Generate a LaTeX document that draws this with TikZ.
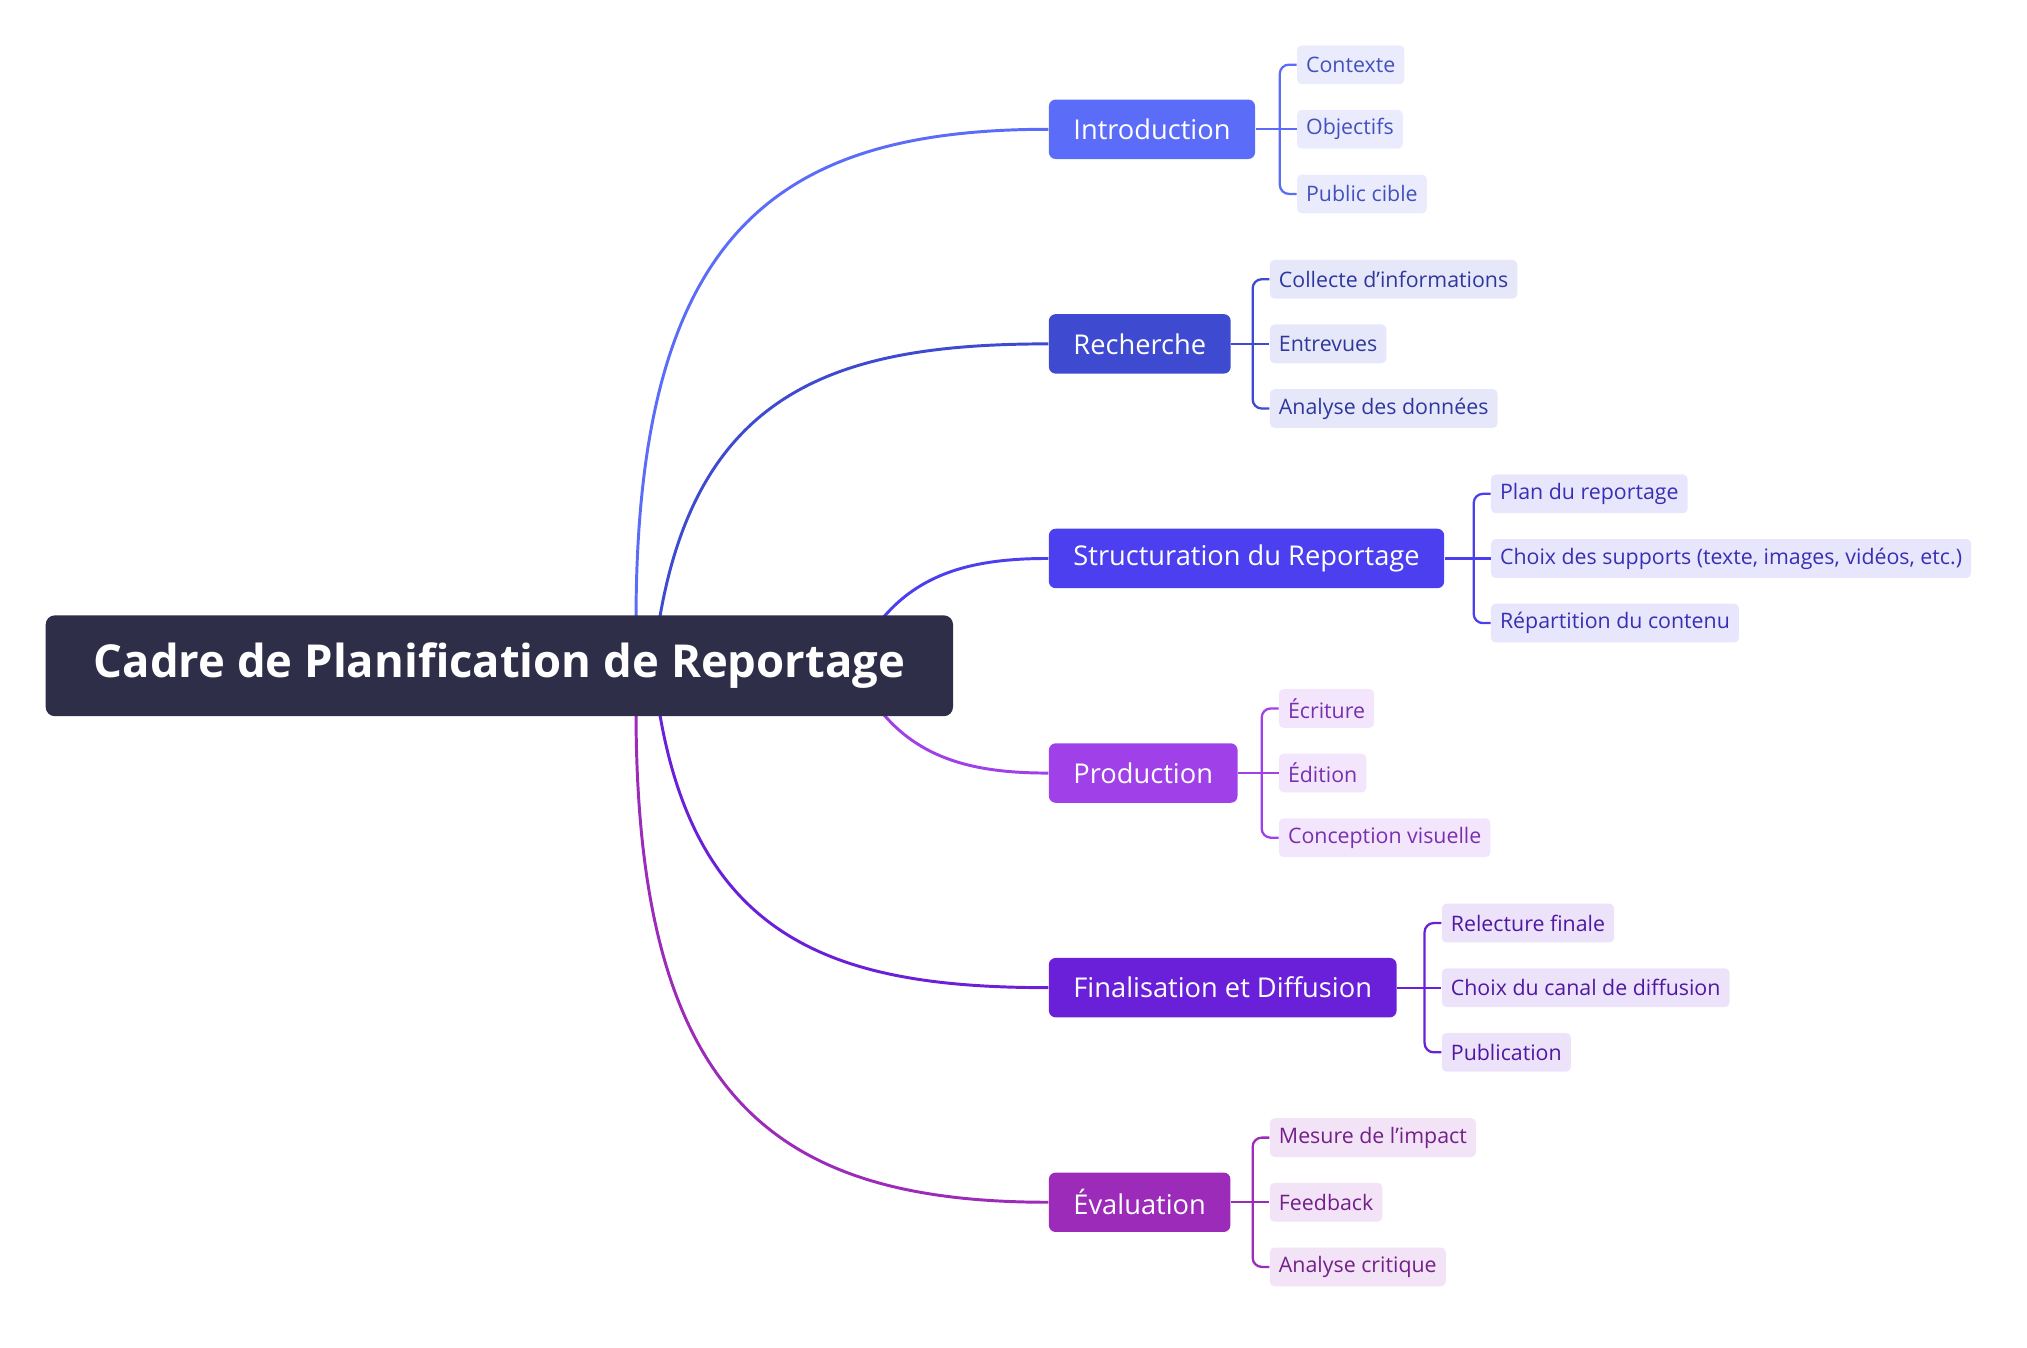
\documentclass[tikz,border=0pt]{standalone}
\usepackage{fontspec}
\setmainfont{Open Sans}
\begin{document}
\begin{tikzpicture}[x=0.02cm,y=-0.02cm,
  root/.style={fill=rootc,text=white,rounded corners=4pt,minimum height=1.56cm,minimum width=14.04cm,font=\fontsize{20}{22}\selectfont\bfseries,anchor=west},
  br/.style={fill=#1,text=white,rounded corners=3pt,minimum height=0.92cm,inner xsep=0.38cm,font=\fontsize{12}{14}\selectfont,anchor=west},
  lf/.style={fill=#1!13,text=#1!75!black,rounded corners=2pt,minimum height=0.6cm,inner xsep=0.14cm,font=\fontsize{9.4}{11}\selectfont,anchor=west},
  cv/.style={draw=#1,line width=1.3pt},
  lk/.style={draw=#1,line width=1pt,rounded corners=4pt}]
\definecolor{rootc}{HTML}{2E2E48}
\definecolor{c1}{HTML}{5B6CF9}
\definecolor{c2}{HTML}{3E4BD0}
\definecolor{c3}{HTML}{4B3FF0}
\definecolor{c4}{HTML}{A040E8}
\definecolor{c5}{HTML}{6A20D8}
\definecolor{c6}{HTML}{9B2BB8}
\useasboundingbox (0,0) rectangle (1568,1042);
\draw[cv=c1] (492,480) .. controls (492,180) and (600,100) .. (811,100);
\draw[cv=c2] (510,480) .. controls (540,300) and (650,266) .. (811,266);
\draw[cv=c3] (683,478) .. controls (715,440) and (760,432) .. (811,432);
\draw[cv=c4] (683,552) .. controls (715,590) and (760,598) .. (811,598);
\draw[cv=c5] (510,550) .. controls (540,730) and (650,764) .. (811,764);
\draw[cv=c6] (492,550) .. controls (492,850) and (600,930) .. (811,930);
\node[root] (root) at (35,515) {Cadre de Planification de Reportage};
\node[br=c1] (b1) at (811,100) {Introduction};
\node[br=c2] (b2) at (811,266) {Recherche};
\node[br=c3] (b3) at (811,432) {Structuration du Reportage};
\node[br=c4] (b4) at (811,598) {Production};
\node[br=c5] (b5) at (811,764) {Finalisation et Diffusion};
\node[br=c6] (b6) at (811,930) {Évaluation};
\node[lf=c1] (l11) at (1003,50) {Contexte};
\node[lf=c1] (l12) at (1003,100) {Objectifs};
\node[lf=c1] (l13) at (1003,150) {Public cible};
\node[lf=c2] (l21) at (982,216) {Collecte d'informations};
\node[lf=c2] (l22) at (982,266) {Entrevues};
\node[lf=c2] (l23) at (982,316) {Analyse des données};
\node[lf=c3] (l31) at (1153,382) {Plan du reportage};
\node[lf=c3] (l32) at (1153,432) {Choix des supports (texte, images, vidéos, etc.)};
\node[lf=c3] (l33) at (1153,482) {Répartition du contenu};
\node[lf=c4] (l41) at (989,548) {Écriture};
\node[lf=c4] (l42) at (989,598) {Édition};
\node[lf=c4] (l43) at (989,648) {Conception visuelle};
\node[lf=c5] (l51) at (1115,714) {Relecture finale};
\node[lf=c5] (l52) at (1115,764) {Choix du canal de diffusion};
\node[lf=c5] (l53) at (1115,814) {Publication};
\node[lf=c6] (l61) at (982,880) {Mesure de l'impact};
\node[lf=c6] (l62) at (982,930) {Feedback};
\node[lf=c6] (l63) at (982,980) {Analyse critique};
\foreach \b/\c in {1/c1,2/c2,3/c3,4/c4,5/c5,6/c6}{
  \draw[lk=\c] (b\b.east) -- (l\b2.west);
  \draw[lk=\c] (l\b1.west) -| ([xshift=-0.26cm]l\b2.west) |- (l\b3.west);
}
\end{tikzpicture}
\end{document}
